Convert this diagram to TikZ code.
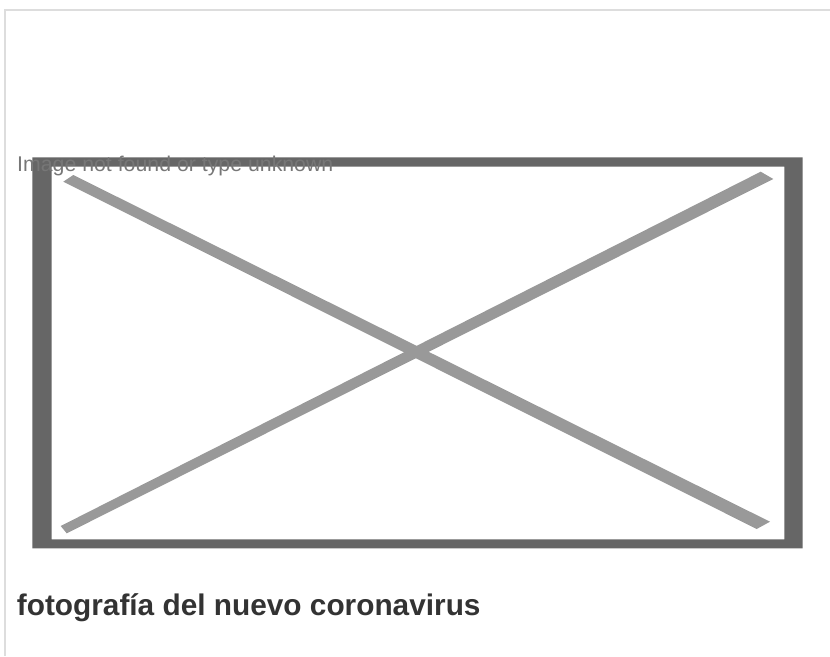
\documentclass[tikz,border=0pt]{standalone}
\usepackage{fontspec}
\setmainfont{Liberation Sans}
\definecolor{framegray}{HTML}{666666}
\definecolor{crossgray}{HTML}{999999}
\definecolor{edgegray}{HTML}{DDDDDD}
\definecolor{alttext}{HTML}{777777}
\definecolor{titletext}{HTML}{333333}
\tikzset{
  pagerule/.style={draw=edgegray, line width=2pt},
  framebar/.style={fill=framegray, even odd rule},
  crossbar/.style={fill=crossgray},
  alttextstyle/.style={anchor=base west, inner sep=0pt, text=alttext, font=\fontsize{21.3}{25}\selectfont},
  titlestyle/.style={anchor=base west, inner sep=0pt, text=titletext, font=\bfseries\fontsize{29.8}{34}\selectfont},
}
\begin{document}
\begin{tikzpicture}[x=1pt, y=-1pt]
\useasboundingbox (0,0) rectangle (830,656);
% page rules
\coordinate (tl) at (5,10);
\coordinate (tr) at (830,10);
\coordinate (bl) at (5,656);
\draw[pagerule] (tr) -- (tl) -- (bl);
% broken image frame
\path[framebar] (32.3,157.3) rectangle (802.7,548.3) (51.7,166.7) rectangle (784.3,539.3);
% cross
\path[crossbar] (73.3,175) -- (770,521.7) -- (756.7,529) -- (63.3,181.7) -- cycle;
\path[crossbar] (60.7,526) -- (760.7,171.7) -- (773.3,179) -- (66.7,533.3) -- cycle;
% texts
\node[alttextstyle] (alt) at (17,171) {Image not found or type unknown};
\node[titlestyle] (title) at (16.7,615) {fotografía del nuevo coronavirus};
\end{tikzpicture}
\end{document}
